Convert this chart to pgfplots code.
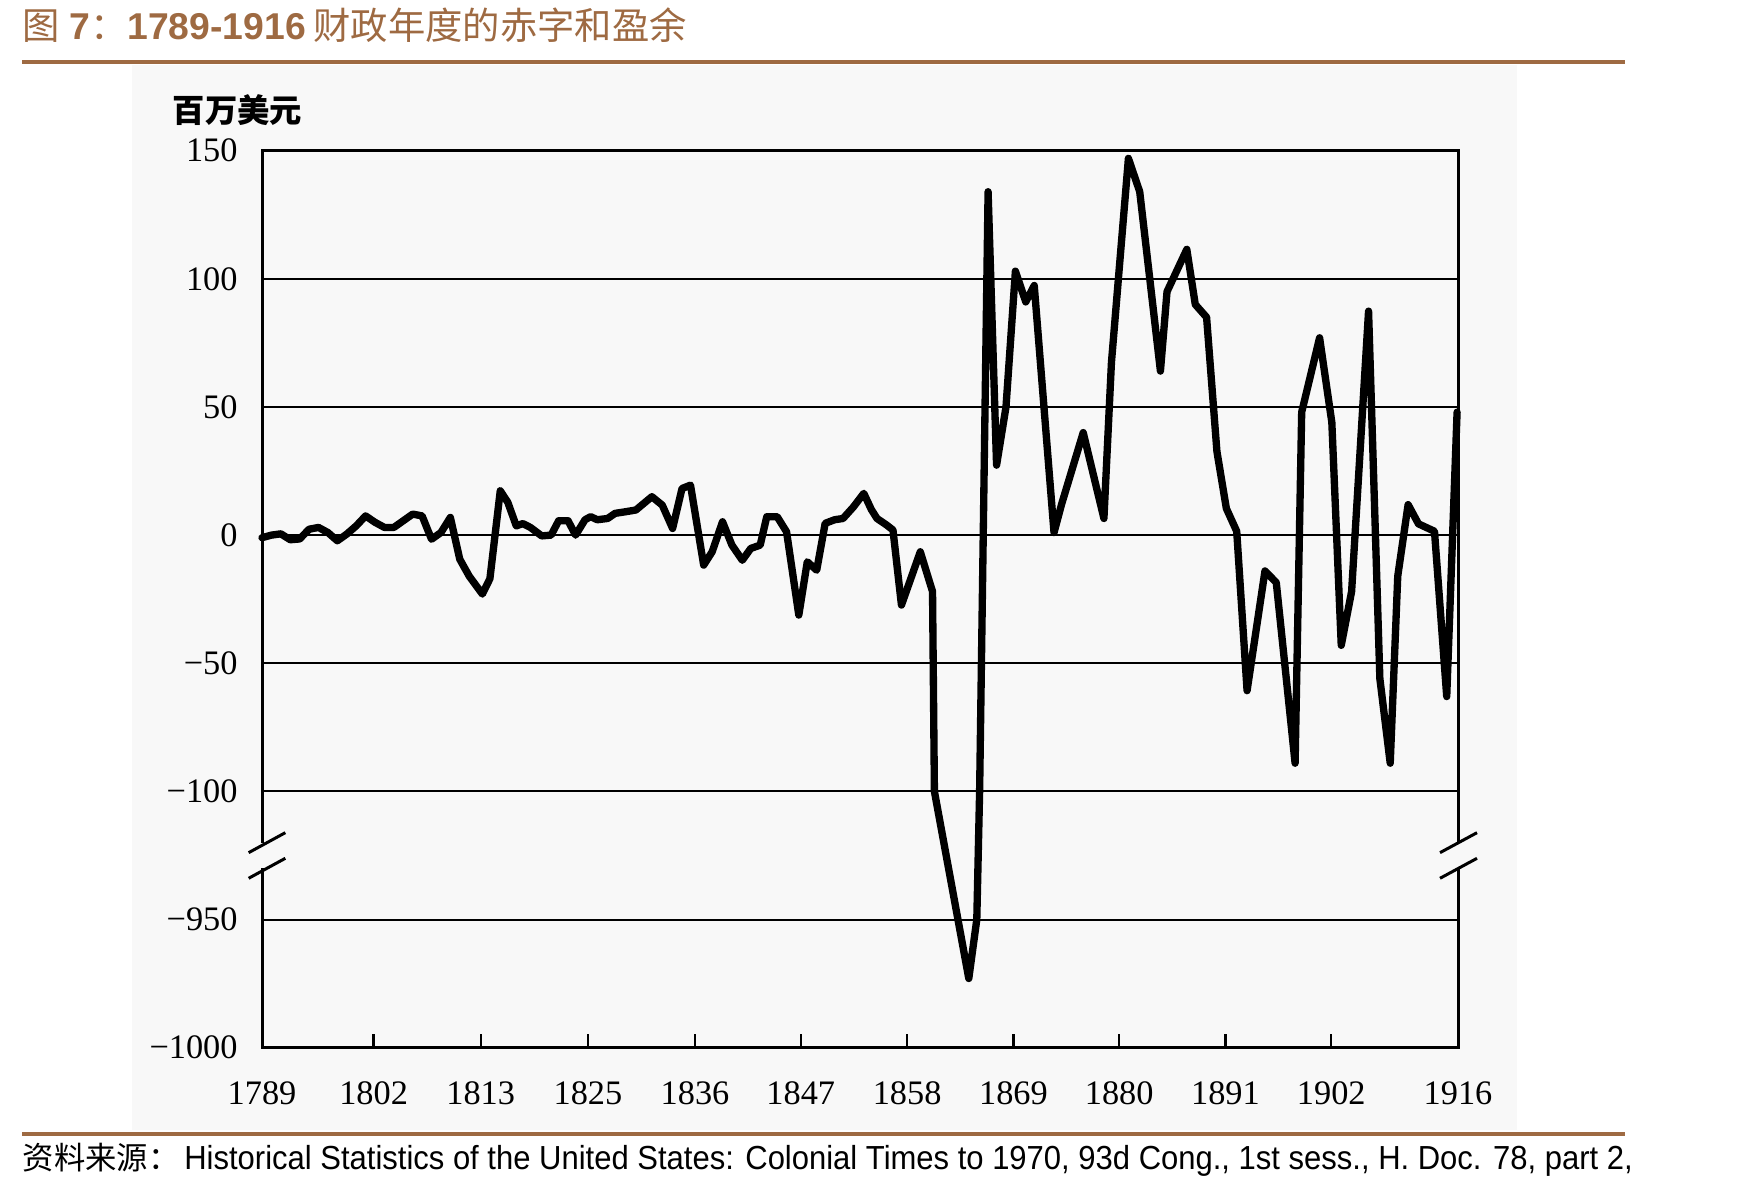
\documentclass[border=0pt]{standalone}
\usepackage{fontspec}
\setmainfont{Liberation Serif}
\newfontfamily\cjk{Noto Sans CJK SC}
\newfontfamily\arial{Liberation Sans}
\usepackage{pgfplots}
\pgfplotsset{compat=1.18}
\definecolor{brownA}{RGB}{158,106,66}
\definecolor{scanbg}{RGB}{248,248,248}

\pgfplotstableread{
x y
1789.0 -1
1790.0 0
1791.0 0.5
1792.0 -1.8
1793.0 -1.5
1794.0 2.3
1795.0 3
1796.0 1
1797.0 -2.2
1798.0 0.4
1799.0 3.6
1800.0 7.5
1801.0 5
1802.0 3
1803.0 3
1804.0 5.6
1805.0 8.2
1806.0 7.5
1807.0 -1.6
1808.0 1
1809.0 6.9
1810.0 -9.4
1811.0 -16
1812.4 -23
1813.2 -17
1814.3 17.3
1815.1 12.8
1816.0 3.6
1816.7 4.5
1817.5 3
1818.7 -0.3
1819.7 0
1820.5 5.6
1821.5 5.6
1822.3 0
1823.3 6
1823.9 7.2
1824.6 6
1825.7 6.5
1826.5 8.5
1827.4 9
1828.7 9.8
1830.4 15
1831.5 11.7
1832.6 2.6
1833.6 18.2
1834.5 19.5
1835.9 -11.7
1836.8 -6.5
1837.9 5.2
1838.9 -3.9
1840.0 -9.8
1840.9 -5.2
1841.9 -3.9
1842.6 7.2
1843.7 7.2
1844.7 1.3
1846.0 -31.2
1846.9 -10.4
1847.9 -13.7
1848.8 4.6
1849.8 6
1850.7 6.5
1851.8 11
1852.9 16.3
1853.7 10
1854.3 6.5
1855.3 4
1856.0 2
1856.9 -27.3
1858.9 -6.5
1860.2 -22
1860.4 -100
1864.05 -173
1864.9 -150
1865.2 -100
1866.1 134
1867.0 27.3
1868.0 50
1869.0 103
1870.1 91
1871.0 97.4
1873.1 1
1873.9 12
1876.2 40
1878.4 6.5
1879.2 67.5
1881.0 147
1882.2 134
1884.4 64
1885.1 95
1887.2 111.5
1888.1 90
1889.3 85
1890.4 32.6
1891.4 10.4
1892.5 1.5
1893.6 -60.7
1895.5 -14
1896.7 -18.5
1898.7 -89
1899.4 48
1901.3 77
1902.6 44
1903.6 -43
1904.7 -22
1906.5 87.4
1907.7 -56
1908.8 -89
1909.6 -16
1910.7 11.9
1911.8 4.4
1913.5 1.5
1914.8 -63
1915.9 48
}\deficit

\begin{document}
\begin{tikzpicture}
\path[use as bounding box] (0,0) rectangle (526.5pt,-356.7pt);
\fill[scanbg] (39.6pt,-19.5pt) rectangle (455.1pt,-339pt);
% title
\node[anchor=west, inner sep=0pt, text=brownA] at (6.6pt,-7.6pt)
  {\fontsize{11.2}{13}\selectfont{\cjk 图}\hspace{0.25em}{\arial\bfseries 7}{\cjk ：}{\arial\bfseries 1789-1916}\hspace{0.2em}{\cjk 财政年度的赤字和盈余}};
\draw[brownA, line width=1.1pt] (6.6pt,-18.6pt) -- (487.5pt,-18.6pt);
\draw[brownA, line width=1.1pt] (6.6pt,-340.2pt) -- (487.5pt,-340.2pt);
% source
\node[anchor=west, inner sep=0pt] at (6.6pt,-348pt)
  {{\cjk\fontsize{9.4}{11}\selectfont 资料来源：}\hspace{0.15em}\scalebox{0.93}[1]{\arial\fontsize{10}{12}\selectfont Historical Statistics of the United States: Colonial Times to 1970, 93d Cong., 1st sess., H. Doc. 78, part 2,}};
% unit label
\node[inner sep=0pt] at (71.2pt,-33pt) {\cjk\bfseries\fontsize{9.7}{11}\selectfont 百万美元};

\begin{axis}[
  at={(78.6pt,-314.3pt)}, anchor=south west,
  scale only axis, width=358.8pt, height=269.1pt,
  xmin=1789, xmax=1916, ymin=-200, ymax=150,
  clip=false,
  axis line style={black, line width=0.9pt},
  ytick={-200,-150,-100,-50,0,50,100,150},
  yticklabels={−1000,−950,−100,−50,0,50,100,150},
  xtick={1789,1800.85,1812.22,1823.61,1834.98,1846.21,1857.5,1868.79,1880.02,1891.3,1902.54,1916},
  xticklabels={1789,1802,1813,1825,1836,1847,1858,1869,1880,1891,1902,1916},
  tick pos=left, tick align=inside,
  major tick length=4pt,
  x tick style={black, line width=0.7pt},
  y tick style={draw=none},
  ymajorgrids, grid style={black, line width=0.6pt},
  tick label style={font=\fontsize{10.3}{12}\selectfont},
  xticklabel style={yshift=-6.6pt},
  yticklabel style={xshift=-3.8pt},
]
\draw[scanbg, line width=4pt] (axis cs:1789,-120) -- (axis cs:1789,-130);
\draw[scanbg, line width=4pt] (axis cs:1916,-120) -- (axis cs:1916,-130);
\draw[line width=0.9pt] ([shift={(-4pt,-3pt)}]axis cs:1789,-120) -- ([shift={(7pt,3pt)}]axis cs:1789,-120);
\draw[line width=0.9pt] ([shift={(-4pt,-3pt)}]axis cs:1789,-130) -- ([shift={(7pt,3pt)}]axis cs:1789,-130);
\draw[line width=0.9pt] ([shift={(-5.4pt,-3pt)}]axis cs:1916,-120) -- ([shift={(5.7pt,3pt)}]axis cs:1916,-120);
\draw[line width=0.9pt] ([shift={(-5.4pt,-3pt)}]axis cs:1916,-130) -- ([shift={(5.7pt,3pt)}]axis cs:1916,-130);
\addplot[black, line width=2.2pt, line join=round, line cap=round] table[x=x, y=y] {\deficit};
\end{axis}
\end{tikzpicture}
\end{document}
